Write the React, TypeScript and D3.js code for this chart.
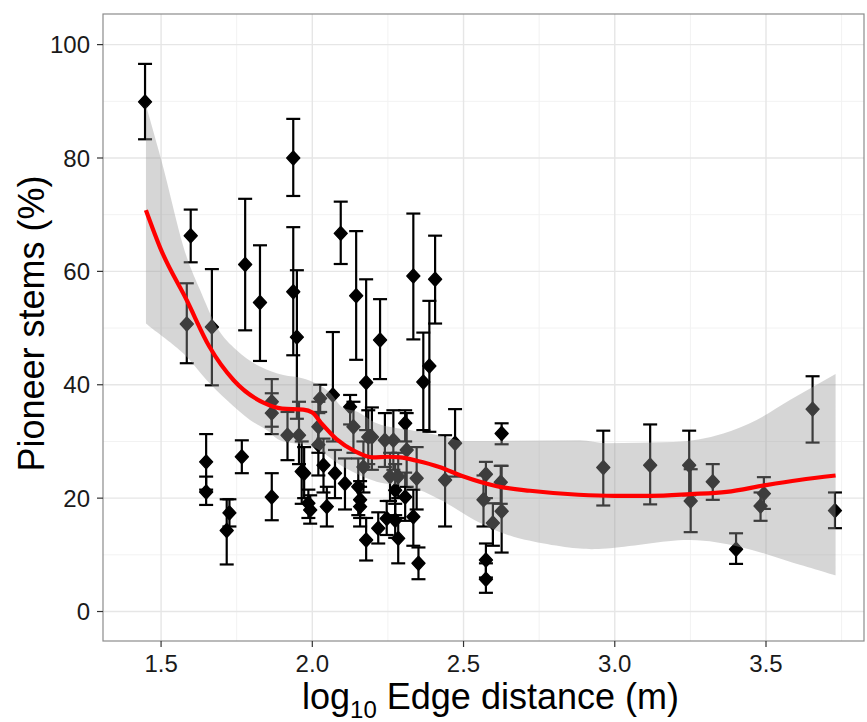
import React from 'react';
import * as d3 from 'd3';

// ---- data ----
const ptX = [1.447,1.585,1.598,1.649,1.649,1.668,1.717,1.726,1.767,1.778,1.827,1.866,1.866,1.866,1.918,1.937,1.937,1.949,1.956,1.965,1.973,1.987,1.993,2.020,2.026,2.020,2.037,2.048,2.068,2.075,2.094,2.108,2.125,2.136,2.145,2.152,2.158,2.158,2.178,2.178,2.185,2.197,2.169,2.218,2.224,2.240,2.268,2.257,2.284,2.274,2.307,2.246,2.274,2.284,2.307,2.312,2.345,2.334,2.351,2.334,2.406,2.367,2.387,2.439,2.472,2.574,2.566,2.597,2.626,2.623,2.574,2.574,2.626,2.962,3.117,3.246,3.251,3.324,3.401,3.493,3.482,3.654,3.728];
const ptY = [89.9,50.7,66.3,26.4,21.1,50.2,14.3,17.4,27.3,61.2,54.5,37.0,35.0,20.2,31.1,80.0,56.4,48.4,31.1,24.7,24.4,19.1,17.9,29.4,37.6,32.6,25.8,18.5,38.2,24.4,66.7,22.6,36.1,32.6,55.7,22.0,19.7,18.5,40.4,12.6,30.8,30.8,25.5,14.7,47.9,30.2,30.2,23.8,23.8,21.4,20.2,16.4,16.1,12.9,33.2,28.5,23.5,16.7,8.5,59.2,58.6,40.5,43.3,23.2,29.7,24.2,19.7,15.6,17.7,22.8,9.1,5.7,31.4,25.4,25.8,25.8,19.5,22.9,11.0,20.8,18.6,35.7,17.8];
const ptLo = [83.3,43.8,61.6,21.5,18.8,39.9,8.3,15.0,24.4,49.6,44.2,32.6,31.3,16.1,26.7,73.3,45.2,34.0,26.0,19.0,20.0,16.5,15.5,24.0,35.2,28.0,21.0,15.0,30.0,20.0,61.3,18.0,33.0,28.0,44.4,17.0,16.5,15.0,32.0,9.0,26.0,25.0,21.0,12.0,41.0,25.5,25.0,19.5,20.0,17.0,16.0,13.5,13.0,8.5,30.0,22.0,18.0,11.6,5.7,48.0,50.8,32.0,31.7,15.0,23.8,20.0,15.0,11.6,10.4,19.0,6.0,3.3,29.5,18.7,18.9,20.5,14.0,19.7,8.4,18.1,16.0,29.8,14.7];
const ptHi = [96.6,57.9,70.9,31.3,23.8,60.4,19.8,19.8,30.2,72.8,64.6,41.0,38.5,24.4,35.2,86.9,67.8,60.2,37.0,30.0,29.0,21.5,20.5,35.0,40.0,37.0,30.5,22.0,49.3,28.5,72.3,27.0,38.2,37.0,67.1,27.0,23.0,22.0,58.6,16.5,35.5,36.0,30.0,17.5,55.1,35.0,35.5,28.0,28.0,26.0,24.5,19.5,19.0,16.5,35.5,35.0,29.0,21.5,11.3,70.2,66.3,49.2,54.8,31.1,35.7,26.4,24.0,19.1,25.7,25.7,12.0,8.5,33.2,31.9,33.0,31.9,25.1,26.0,13.8,23.7,21.0,41.5,21.0];

const fitX = [1.45,1.50,1.585,1.66,1.74,1.84,1.90,1.97,2.00,2.03,2.08,2.14,2.20,2.25,2.29,2.345,2.42,2.50,2.61,2.72,2.88,3.00,3.12,3.25,3.37,3.50,3.61,3.73];
const fitY = [70.8,63.8,54.9,46.7,40.8,36.8,35.8,35.6,35.1,33.2,30.4,28.3,27.2,27.3,27.2,26.6,25.5,23.8,22.1,21.3,20.6,20.4,20.4,20.7,21.1,22.3,23.2,24.0];

const bandHiX = [1.45,1.50,1.585,1.629,1.684,1.75,1.827,1.904,1.97,2.06,2.10,2.147,2.213,2.323,2.444,2.499,2.61,2.885,2.973,3.194,3.359,3.469,3.579,3.73];
const bandHi = [89.3,79.8,62.5,56.7,50.2,46.1,43.2,41.7,41.1,38.5,36.0,35.3,33.2,32.0,30.8,30.1,30.1,30.2,29.7,29.9,31.4,33.8,37.3,41.9];
const bandLoX = [1.45,1.464,1.574,1.651,1.717,1.794,1.849,1.893,2.003,2.103,2.213,2.323,2.42,2.555,2.665,2.885,2.973,3.249,3.414,3.579,3.73];
const bandLo = [50.8,50.2,45.5,40.8,37.3,33.8,32.0,30.2,29.0,25.5,22.9,22.0,19.8,15.6,13.2,11.1,11.1,12.6,11.4,8.8,6.4];

const xTicks = [1.5, 2.0, 2.5, 3.0, 3.5];
const xTickLabels = ['1.5', '2.0', '2.5', '3.0', '3.5'];
const xMinor = [1.75, 2.25, 2.75, 3.25, 3.75];
const yTicks = [0, 20, 40, 60, 80, 100];
const yTickLabels = ['0', '20', '40', '60', '80', '100'];
const yMinor = [10, 30, 50, 70, 90];

const W = 867, H = 722;
const L = 103, R = 864, T = 14, B = 641;
const FONT = 'Arial, "Liberation Sans", Helvetica, sans-serif';

export default function App() {
  const x = d3.scaleLinear().domain([1.308, 3.824]).range([L, R]);
  const y = d3.scaleLinear().domain([-5.2, 105.4]).range([B, T]);

  const hiPts: [number, number][] = bandHiX.map((v, i) => [x(v), y(bandHi[i])]);
  const loPts: [number, number][] = bandLoX.map((v, i) => [x(v), y(bandLo[i])]).reverse() as [number, number][];
  const lineGen = d3.line().curve(d3.curveMonotoneX);
  const lineGenRev = d3.line().curve(d3.curveCatmullRom.alpha(0.5));
  const upper = lineGen(hiPts) || '';
  const lower = (lineGenRev(loPts) || '').replace(/^M/, 'L');
  const ribbon = upper + lower + 'Z';

  const fitPath = d3.line<number>()
    .x((d, i) => x(fitX[i]))
    .y((d) => y(d))
    .curve(d3.curveMonotoneX)(fitY) || '';

  const diamond = 'M0,-7L6.5,0L0,7L-6.5,0Z';

  return (
    <svg width={W} height={H} style={{ position: 'absolute', left: 0, top: 0, background: '#fff' }} fontFamily={FONT}>
      <rect x={0} y={0} width={W} height={H} fill="#fff" />
      <defs>
        <clipPath id="panel"><rect x={L} y={T} width={R - L} height={B - T} /></clipPath>
      </defs>
      {/* grid */}
      <g>
        {yMinor.map((v) => <line key={'ym' + v} x1={L} x2={R} y1={y(v)} y2={y(v)} stroke="#f2f2f2" strokeWidth={1} />)}
        {xMinor.map((v) => <line key={'xm' + v} x1={x(v)} x2={x(v)} y1={T} y2={B} stroke="#f2f2f2" strokeWidth={1} />)}
        {yTicks.map((v) => <line key={'yg' + v} x1={L} x2={R} y1={y(v)} y2={y(v)} stroke="#e6e6e6" strokeWidth={1.4} />)}
        {xTicks.map((v) => <line key={'xg' + v} x1={x(v)} x2={x(v)} y1={T} y2={B} stroke="#e6e6e6" strokeWidth={1.4} />)}
      </g>
      <g clipPath="url(#panel)">
        {/* error bars */}
        {ptX.map((v, i) => {
          const cx = x(v);
          return (
            <g key={'e' + i} stroke="#000" strokeWidth={2.2} fill="none">
              <line x1={cx} x2={cx} y1={y(ptLo[i])} y2={y(ptHi[i])} />
              <line x1={cx - 7} x2={cx + 7} y1={y(ptLo[i])} y2={y(ptLo[i])} />
              <line x1={cx - 7} x2={cx + 7} y1={y(ptHi[i])} y2={y(ptHi[i])} />
            </g>
          );
        })}
        {/* points */}
        {ptX.map((v, i) => (
          <path key={'p' + i} d={diamond} transform={`translate(${x(v)},${y(ptY[i])})`} fill="#000" stroke="#000" strokeWidth={1.4} strokeLinejoin="round" />
        ))}
        {/* ribbon */}
        <path d={ribbon} fill="#999999" fillOpacity={0.4} stroke="none" />
        {/* fit line */}
        <path d={fitPath} fill="none" stroke="#ff0000" strokeWidth={4.2} strokeLinecap="butt" />
      </g>
      {/* panel border */}
      <rect x={L} y={T} width={R - L} height={B - T} fill="none" stroke="#8c8c8c" strokeWidth={1.2} />
      {/* ticks */}
      {yTicks.map((v, i) => (
        <g key={'yt' + v}>
          <line x1={L - 6} x2={L} y1={y(v)} y2={y(v)} stroke="#333" strokeWidth={1.2} />
          <text x={L - 13} y={y(v)} dy="0.36em" textAnchor="end" fontSize={24} fill="#1a1a1a">{yTickLabels[i]}</text>
        </g>
      ))}
      {xTicks.map((v, i) => (
        <g key={'xt' + v}>
          <line x1={x(v)} x2={x(v)} y1={B} y2={B + 6} stroke="#333" strokeWidth={1.2} />
          <text x={x(v)} y={B + 31} textAnchor="middle" fontSize={24} fill="#1a1a1a">{xTickLabels[i]}</text>
        </g>
      ))}
      {/* axis titles */}
      <text transform={`translate(44,${(T + B) / 2 - 4}) rotate(-90)`} textAnchor="middle" fontSize={36} fill="#000">Pioneer stems (%)</text>
      <text x={(L + R) / 2 + 7} y={709} textAnchor="middle" fontSize={36} fill="#000">
        log<tspan fontSize={24} dy={9}>10</tspan><tspan dy={-9}> Edge distance (m)</tspan>
      </text>
    </svg>
  );
}
